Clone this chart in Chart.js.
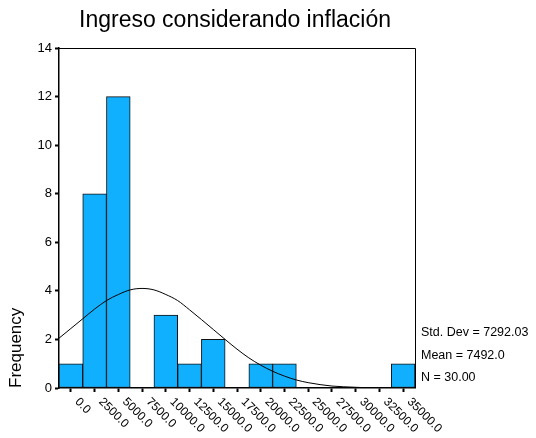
<!DOCTYPE html>
<html lang="es">
<head>
<meta charset="UTF-8">
<title>Ingreso considerando inflación</title>
<script src="https://cdn.jsdelivr.net/npm/chart.js"></script>
<style>
  html, body { margin: 0; padding: 0; background: #fff; }
  #wrap { width: 536px; height: 438px; }
</style>
</head>
<body>
<div id="wrap"><canvas id="hist" width="536" height="438"></canvas></div>
<script>
// histogram bins (centres) and counts
const binCenters = [0, 2500, 5000, 7500, 10000, 12500, 15000, 17500, 20000, 22500, 25000, 27500, 30000, 32500, 35000];
const frequencies = [1, 8, 12, null, 3, 1, 2, null, 1, 1, null, null, null, null, 1];
const xTickLabels = ["0.0", "2500.0", "5000.0", "7500.0", "10000.0", "12500.0", "15000.0", "17500.0",
  "20000.0", "22500.0", "25000.0", "27500.0", "30000.0", "32500.0", "35000.0"];
const yTicks = [0, 2, 4, 6, 8, 10, 12, 14];

// normal curve
const curveX = [-1250, 0, 1250, 2500, 3750, 5000, 6250, 7500, 8750, 10000, 11250, 12500, 13750, 15000,
  16250, 17500, 18750, 20000, 21250, 22500, 23750, 25000, 26250, 27500, 28750, 30000, 31250, 32500];
const curveY = [2.05, 2.45, 2.85, 3.25, 3.6, 3.85, 4.04, 4.1, 4.04, 3.85, 3.6, 3.22, 2.82, 2.41,
  2.0, 1.6, 1.24, 0.94, 0.69, 0.49, 0.33, 0.22, 0.14, 0.08, 0.05, 0.03, 0.01, 0.0];

const chartTitle = "Ingreso considerando inflación";
const statsLines = ["Std. Dev = 7292.03", "Mean = 7492.0", "N = 30.00"];

const FONT = "'Liberation Sans', Arial, sans-serif";

// draws title, frame, rotated x labels and the stats box
const extrasPlugin = {
  id: "extras",
  afterDraw(chart) {
    const ctx = chart.ctx;
    const area = chart.chartArea;
    const xs = chart.scales.x;
    ctx.save();
    ctx.strokeStyle = "#000";
    ctx.lineWidth = 1;
    ctx.beginPath();
    ctx.moveTo(area.left, area.top + 0.5);
    ctx.lineTo(area.right + 0.5, area.top + 0.5);
    ctx.lineTo(area.right + 0.5, area.bottom);
    ctx.stroke();

    ctx.fillStyle = "#000";
    ctx.font = "23px " + FONT;
    ctx.textAlign = "center";
    ctx.textBaseline = "alphabetic";
    ctx.fillText(chartTitle, 235, 27);

    ctx.font = "12px " + FONT;
    ctx.textAlign = "left";
    ctx.textBaseline = "middle";
    binCenters.forEach((v, i) => {
      const px = xs.getPixelForValue(v);
      ctx.save();
      ctx.translate(px + 6, area.bottom + 12);
      ctx.rotate(Math.PI / 4);
      ctx.fillText(xTickLabels[i], 0, 0);
      ctx.restore();
    });

    ctx.font = "12.5px " + FONT;
    statsLines.forEach((s, i) => ctx.fillText(s, area.right + 6, 333 + i * 22.5));

    ctx.font = "17px " + FONT;
    ctx.save();
    ctx.translate(16, area.bottom);
    ctx.rotate(-Math.PI / 2);
    ctx.fillText("Frequency", 0, 0);
    ctx.restore();
    ctx.restore();
  }
};

new Chart(document.getElementById("hist"), {
  data: {
    datasets: [
      {
        type: "line",
        data: curveX.map((x, i) => ({ x: x, y: curveY[i] })),
        borderColor: "#000",
        borderWidth: 1,
        pointRadius: 0,
        cubicInterpolationMode: "monotone",
        fill: false,
        order: 0
      },
      {
        type: "bar",
        data: binCenters.map((x, i) => ({ x: x, y: frequencies[i] })),
        backgroundColor: "#10b0ff",
        borderColor: "#111",
        borderWidth: 1,
        borderSkipped: false,
        barPercentage: 1,
        categoryPercentage: 1,
        order: 1
      }
    ]
  },
  options: {
    responsive: false,
    animation: false,
    layout: { padding: { top: 48, right: 121, left: 0, bottom: 0 } },
    plugins: { legend: { display: false }, title: { display: false }, tooltip: { enabled: false } },
    scales: {
      x: {
        type: "linear",
        offset: false,
        min: -1250,
        max: 36250,
        afterBuildTicks: (s) => { s.ticks = binCenters.map(v => ({ value: v })); },
        afterFit: (s) => { s.height = 50; },
        ticks: { display: false },
        grid: { display: true, offset: false, drawOnChartArea: false, drawTicks: true, tickLength: 4, tickColor: "#000", tickWidth: 2 },
        border: { display: true, color: "#000", width: 1.5 }
      },
      y: {
        min: 0,
        max: 14,
        afterBuildTicks: (s) => { s.ticks = yTicks.map(v => ({ value: v })); },
        afterFit: (s) => { s.width = 59; },
        ticks: { color: "#000", font: { family: FONT, size: 13 }, padding: 3 },
        grid: { display: true, drawOnChartArea: false, drawTicks: true, tickLength: 4, tickColor: "#000", tickWidth: 2 },
        border: { display: true, color: "#000", width: 1.5 }
      }
    }
  },
  plugins: [extrasPlugin]
});
</script>
</body>
</html>
